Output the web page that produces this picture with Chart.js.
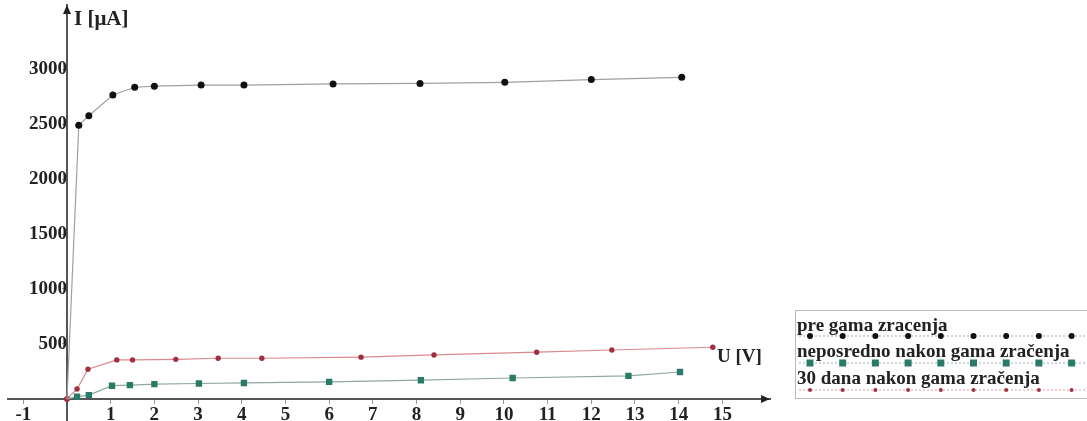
<!DOCTYPE html>
<html>
<head>
<meta charset="utf-8">
<script src="https://cdn.jsdelivr.net/npm/chart.js@4.4.1/dist/chart.umd.min.js"></script>
<style>
  html, body { margin: 0; padding: 0; background: #fff; }
  #wrap { width: 1087px; height: 421px; position: relative; }
</style>
</head>
<body>
<div id="wrap"><canvas id="myChart"></canvas></div>
<script>
// series names
const seriesNames = ['pre gama zracenja', 'neposredno nakon gama zračenja', '30 dana nakon gama zračenja'];

// U [V] and I [uA]
const preU = [0, 0.27, 0.5, 1.05, 1.55, 2.0, 3.07, 4.05, 6.09, 8.08, 10.02, 12.0, 14.07];
const preI = [0, 2490, 2575, 2765, 2835, 2845, 2855, 2855, 2865, 2870, 2880, 2905, 2925];

const nakonU = [0, 0.23, 0.5, 1.03, 1.44, 2.0, 3.02, 4.05, 6.0, 8.1, 10.2, 12.85, 14.03];
const nakonI = [0, 20, 35, 120, 125, 135, 140, 145, 155, 170, 190, 210, 245];

const danaU = [0, 0.23, 0.48, 1.14, 1.5, 2.49, 3.46, 4.46, 6.73, 8.4, 10.75, 12.47, 14.78];
const danaI = [0, 90, 270, 355, 355, 360, 370, 370, 380, 400, 425, 445, 470];

// axis ticks
const xTicks = [-1, 1, 2, 3, 4, 5, 6, 7, 8, 9, 10, 11, 12, 13, 14, 15];
const yTicks = [500, 1000, 1500, 2000, 2500, 3000];

const toPoints = (xs, ys) => xs.map((x, i) => ({ x: x, y: ys[i] }));

const serif = 'Liberation Serif';
const axisColor = '#555';
const bigFont = 'bold 19px "' + serif + '"';

// arrows, axis titles and the boxed legend
const extras = {
    id: 'extras',
    afterDraw(chart) {
        const ctx = chart.ctx;
        const xs = chart.scales.x, ys = chart.scales.y;
        const ox = xs.getPixelForValue(0), oy = ys.getPixelForValue(0);
        const right = chart.chartArea.right, top = chart.chartArea.top;
        ctx.save();
        // y axis runs on to the bottom edge
        ctx.strokeStyle = axisColor;
        ctx.lineWidth = 2;
        ctx.beginPath();
        ctx.moveTo(ox, chart.chartArea.bottom);
        ctx.lineTo(ox, chart.height);
        ctx.stroke();

        ctx.fillStyle = '#222';
        // arrow heads
        ctx.beginPath();
        ctx.moveTo(right, oy);
        ctx.lineTo(right - 9, oy - 4);
        ctx.lineTo(right - 9, oy + 4);
        ctx.closePath();
        ctx.fill();
        ctx.beginPath();
        ctx.moveTo(ox, top);
        ctx.lineTo(ox - 4, top + 9);
        ctx.lineTo(ox + 4, top + 9);
        ctx.closePath();
        ctx.fill();

        // axis titles
        ctx.textBaseline = 'alphabetic';
        ctx.textAlign = 'left';
        ctx.font = 'bold 21px "' + serif + '"';
        ctx.fillText('I [μA]', ox + 7, 25);
        ctx.font = bigFont;
        ctx.fillText('U [V]', right - 53, oy - 37);

        // legend box
        const lx = 795, ly = 310, lw = 300, lh = 88;
        ctx.strokeStyle = '#bbb';
        ctx.lineWidth = 1;
        ctx.strokeRect(lx + 0.5, ly + 0.5, lw, lh);
        const rows = [
            { text: seriesNames[0], y: 331, my: 336, color: '#111', line: '#9ab', shape: 'circle', r: 3 },
            { text: seriesNames[1], y: 357, my: 363, color: '#2a7a68', line: '#9ab', shape: 'rect', r: 3.5 },
            { text: seriesNames[2], y: 384, my: 390, color: '#a03040', line: '#e9a', shape: 'circle', r: 2 }
        ];
        rows.forEach(row => {
            ctx.strokeStyle = row.line;
            ctx.setLineDash([2, 2]);
            ctx.beginPath();
            ctx.moveTo(lx + 4, row.my);
            ctx.lineTo(1087, row.my);
            ctx.stroke();
            ctx.setLineDash([]);
            ctx.fillStyle = '#222';
            ctx.font = bigFont;
            ctx.fillText(row.text, lx + 2, row.y);
            ctx.fillStyle = row.color;
            for (let k = 0; k < 9; k++) {
                const mx = 810 + k * 32.7;
                ctx.beginPath();
                if (row.shape === 'rect') {
                    ctx.rect(mx - row.r, row.my - row.r, row.r * 2, row.r * 2);
                } else {
                    ctx.arc(mx, row.my, row.r, 0, Math.PI * 2);
                }
                ctx.fill();
            }
        });
        ctx.restore();
    }
};

// labels sit far from the ends, so no extra room for them is needed
function noEdgePadding(axis) {
    axis.paddingTop = 0;
    axis.paddingBottom = 0;
    axis.paddingLeft = 0;
    axis.paddingRight = 0;
}

const ctx = document.getElementById('myChart');

new Chart(ctx, {
    type: 'scatter',
    data: {
        datasets: [
            {
                label: seriesNames[0],
                data: toPoints(preU, preI),
                showLine: true,
                borderColor: '#a0a0a0',
                borderWidth: 1.2,
                backgroundColor: '#111',
                pointBackgroundColor: '#111',
                pointBorderWidth: 0,
                pointRadius: preU.map(u => u === 0 ? 0 : 3.5),
                pointStyle: 'circle'
            },
            {
                label: seriesNames[1],
                data: toPoints(nakonU, nakonI),
                showLine: true,
                borderColor: '#8fa8a0',
                borderWidth: 1.2,
                backgroundColor: '#2a7a68',
                pointBackgroundColor: '#2a7a68',
                pointBorderWidth: 0,
                pointRadius: nakonU.map(u => u === 0 ? 0 : 4.5),
                pointStyle: 'rect'
            },
            {
                label: seriesNames[2],
                data: toPoints(danaU, danaI),
                showLine: true,
                borderColor: '#d98a90',
                borderWidth: 1.2,
                backgroundColor: '#a03040',
                pointBackgroundColor: '#a03040',
                pointBorderWidth: 0,
                pointRadius: danaU.map(u => u === 0 ? 3 : 2.7),
                pointStyle: 'circle'
            }
        ]
    },
    options: {
        responsive: true,
        maintainAspectRatio: false,
        animation: false,
        layout: {
            padding: { left: 8, right: 317, top: 5, bottom: 0 }
        },
        plugins: {
            legend: { display: false },
            tooltip: { enabled: false }
        },
        scales: {
            x: {
                type: 'linear',
                position: { y: 0 },
                min: -1.35,
                max: 16.09,
                afterBuildTicks: axis => {
                    axis.ticks = xTicks.map(v => ({ value: v }));
                },
                afterFit: noEdgePadding,
                grid: {
                    drawOnChartArea: false,
                    drawTicks: true,
                    tickLength: 4,
                    color: '#999'
                },
                border: { color: axisColor, width: 2 },
                ticks: {
                    color: '#222',
                    padding: 1,
                    maxRotation: 0,
                    autoSkip: false,
                    font: { family: serif, size: 19, weight: 'bold' },
                    callback: v => String(v)
                }
            },
            y: {
                type: 'linear',
                position: { x: 0 },
                min: -160,
                max: 3583,
                afterBuildTicks: axis => {
                    axis.ticks = yTicks.map(v => ({ value: v }));
                },
                afterFit: noEdgePadding,
                grid: {
                    drawOnChartArea: false,
                    drawTicks: true,
                    tickLength: 4,
                    color: '#999'
                },
                border: { color: axisColor, width: 2 },
                ticks: {
                    color: '#222',
                    padding: 1,
                    autoSkip: false,
                    font: { family: serif, size: 19, weight: 'bold' },
                    callback: v => String(v)
                }
            }
        }
    },
    plugins: [extras]
});
</script>
</body>
</html>
